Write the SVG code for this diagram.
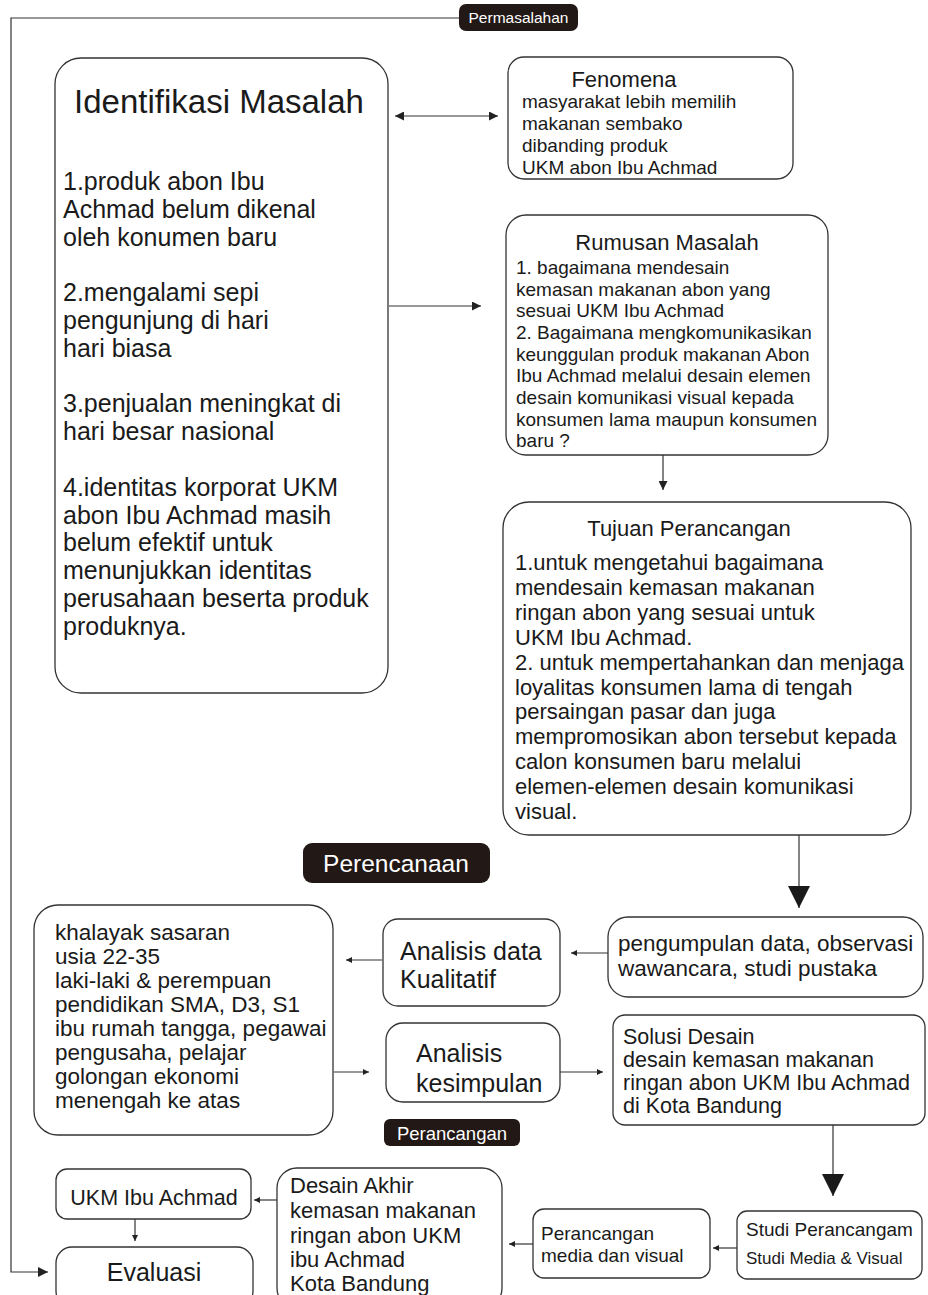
<svg xmlns="http://www.w3.org/2000/svg" width="928" height="1295" viewBox="0 0 928 1295">
<defs>
<style>
text{font-family:"Liberation Sans",Arial,sans-serif;fill:#1a1a1a}
.box{fill:#fff;stroke:#333;stroke-width:1.3}
.lbl{fill:#221815}
.lt{fill:#fff}
.con{fill:none;stroke:#333;stroke-width:1.2}
</style>
<marker id="sm" viewBox="0 0 10 10" refX="10" refY="5" markerUnits="userSpaceOnUse" markerWidth="8" markerHeight="6" orient="auto"><path d="M0,0 L10,5 L0,10 z" fill="#222"/></marker>
<marker id="md" viewBox="0 0 10 10" refX="10" refY="5" markerUnits="userSpaceOnUse" markerWidth="12" markerHeight="9" orient="auto-start-reverse"><path d="M0,0 L10,5 L0,10 z" fill="#222"/></marker>
<marker id="ev" viewBox="0 0 10 10" refX="10" refY="5" markerUnits="userSpaceOnUse" markerWidth="10" markerHeight="13" orient="auto"><path d="M0,0 L10,5 L0,10 z" fill="#222"/></marker>
<marker id="bg" viewBox="0 0 10 10" refX="10" refY="5" markerUnits="userSpaceOnUse" markerWidth="22" markerHeight="24" orient="auto"><path d="M0,0 L10,5 L0,10 z" fill="#1a1a1a"/></marker>
</defs>
<rect width="928" height="1295" fill="#fff"/>

<g id="connectors">
<polyline class="con" points="460,18 11,18 11,1272 48,1272" marker-end="url(#ev)"/>
<line class="con" x1="395" y1="116" x2="498" y2="116" marker-start="url(#md)" marker-end="url(#md)"/>
<line class="con" x1="389" y1="306" x2="481" y2="306" marker-end="url(#md)"/>
<line class="con" x1="663" y1="455" x2="663" y2="490" marker-end="url(#md)"/>
<line class="con" x1="799" y1="835" x2="799" y2="908" marker-end="url(#bg)"/>
<line class="con" x1="608" y1="953" x2="571" y2="953" marker-end="url(#sm)"/>
<line class="con" x1="382" y1="960" x2="346" y2="960" marker-end="url(#sm)"/>
<line class="con" x1="334" y1="1072" x2="369" y2="1072" marker-end="url(#sm)"/>
<line class="con" x1="560" y1="1072" x2="603" y2="1072" marker-end="url(#sm)"/>
<line class="con" x1="833" y1="1125" x2="833" y2="1196" marker-end="url(#bg)"/>
<line class="con" x1="737" y1="1248" x2="713" y2="1248" marker-end="url(#sm)"/>
<line class="con" x1="533" y1="1244" x2="509" y2="1244" marker-end="url(#sm)"/>
<line class="con" x1="277" y1="1200" x2="254" y2="1200" marker-end="url(#sm)"/>
<line class="con" x1="135" y1="1219" x2="135" y2="1241" marker-end="url(#sm)"/>
</g>

<g id="permasalahan">
<rect class="lbl" x="459" y="4" width="119" height="27" rx="7"/>
<text class="lt" x="518.5" y="23" font-size="15.5" text-anchor="middle">Permasalahan</text>
</g>

<g id="identifikasi">
<rect class="box" x="55" y="58" width="333" height="635" rx="26"/>
<text x="219" y="113" font-size="33" text-anchor="middle">Identifikasi Masalah</text>
<g font-size="25">
<text x="63" y="190">1.produk abon Ibu</text>
<text x="63" y="218">Achmad belum dikenal</text>
<text x="63" y="246">oleh konumen baru</text>
<text x="63" y="301">2.mengalami sepi</text>
<text x="63" y="329">pengunjung di hari</text>
<text x="63" y="357">hari biasa</text>
<text x="63" y="412">3.penjualan meningkat di</text>
<text x="63" y="440">hari besar nasional</text>
<text x="63" y="496">4.identitas korporat UKM</text>
<text x="63" y="524">abon Ibu Achmad masih</text>
<text x="63" y="551">belum efektif untuk</text>
<text x="63" y="579">menunjukkan identitas</text>
<text x="63" y="607">perusahaan beserta produk</text>
<text x="63" y="635">produknya.</text>
</g>
</g>

<g id="fenomena">
<rect class="box" x="508" y="57" width="285" height="122" rx="16"/>
<text x="624" y="87" font-size="22" text-anchor="middle">Fenomena</text>
<g font-size="19">
<text x="522" y="108">masyarakat lebih memilih</text>
<text x="522" y="130">makanan sembako</text>
<text x="522" y="152">dibanding produk</text>
<text x="522" y="174">UKM abon Ibu Achmad</text>
</g>
</g>

<g id="rumusan">
<rect class="box" x="506" y="215" width="322" height="240" rx="20"/>
<text x="667" y="250" font-size="22" text-anchor="middle">Rumusan Masalah</text>
<g font-size="19">
<text x="516" y="274">1. bagaimana mendesain</text>
<text x="516" y="295.7">kemasan makanan abon yang</text>
<text x="516" y="317.3">sesuai UKM Ibu Achmad</text>
<text x="516" y="339">2. Bagaimana mengkomunikasikan</text>
<text x="516" y="360.7">keunggulan produk makanan Abon</text>
<text x="516" y="382.3">Ibu Achmad melalui desain elemen</text>
<text x="516" y="404">desain komunikasi visual kepada</text>
<text x="516" y="425.7">konsumen lama maupun konsumen</text>
<text x="516" y="447.3">baru ?</text>
</g>
</g>

<g id="tujuan">
<rect class="box" x="503" y="502" width="408" height="333" rx="26"/>
<text x="689" y="536" font-size="22" text-anchor="middle">Tujuan Perancangan</text>
<g font-size="22">
<text x="515" y="570">1.untuk mengetahui bagaimana</text>
<text x="515" y="594.9">mendesain kemasan makanan</text>
<text x="515" y="619.8">ringan abon yang sesuai untuk</text>
<text x="515" y="644.7">UKM Ibu Achmad.</text>
<text x="515" y="669.6">2. untuk mempertahankan dan menjaga</text>
<text x="515" y="694.5">loyalitas konsumen lama di tengah</text>
<text x="515" y="719.4">persaingan pasar dan juga</text>
<text x="515" y="744.3">mempromosikan abon tersebut kepada</text>
<text x="515" y="769.2">calon konsumen baru melalui</text>
<text x="515" y="794.1">elemen-elemen desain komunikasi</text>
<text x="515" y="819">visual.</text>
</g>
</g>

<g id="perencanaan">
<rect class="lbl" x="303" y="843" width="187" height="40" rx="9"/>
<text class="lt" x="396" y="872" font-size="24.5" text-anchor="middle">Perencanaan</text>
</g>

<g id="pengumpulan">
<rect class="box" x="608" y="917" width="315" height="80" rx="20"/>
<g font-size="22.5">
<text x="618" y="951">pengumpulan data, observasi</text>
<text x="618" y="976">wawancara, studi pustaka</text>
</g>
</g>

<g id="analisis-data">
<rect class="box" x="383" y="919" width="177" height="87" rx="15"/>
<g font-size="25">
<text x="400" y="960">Analisis data</text>
<text x="400" y="988">Kualitatif</text>
</g>
</g>

<g id="khalayak">
<rect class="box" x="34" y="905" width="299" height="230" rx="24"/>
<g font-size="22.5">
<text x="55" y="940">khalayak sasaran</text>
<text x="55" y="964">usia 22-35</text>
<text x="55" y="988">laki-laki &amp; perempuan</text>
<text x="55" y="1012">pendidikan SMA, D3, S1</text>
<text x="55" y="1036">ibu rumah tangga, pegawai</text>
<text x="55" y="1060">pengusaha, pelajar</text>
<text x="55" y="1084">golongan ekonomi</text>
<text x="55" y="1108">menengah ke atas</text>
</g>
</g>

<g id="analisis-kesimpulan">
<rect class="box" x="386" y="1023" width="174" height="79" rx="17"/>
<g font-size="25">
<text x="416" y="1062">Analisis</text>
<text x="416" y="1092">kesimpulan</text>
</g>
</g>

<g id="perancangan">
<rect class="lbl" x="384" y="1119" width="136" height="27" rx="6"/>
<text class="lt" x="452" y="1140" font-size="18.5" text-anchor="middle">Perancangan</text>
</g>

<g id="solusi">
<rect class="box" x="613" y="1015" width="312" height="110" rx="12"/>
<g font-size="21.5">
<text x="623" y="1044">Solusi Desain</text>
<text x="623" y="1067">desain kemasan makanan</text>
<text x="623" y="1090">ringan abon UKM Ibu Achmad</text>
<text x="623" y="1113">di Kota Bandung</text>
</g>
</g>

<g id="studi">
<rect class="box" x="737" y="1211" width="185" height="68" rx="10"/>
<text x="746" y="1236" font-size="19">Studi Perancangam</text>
<text x="746" y="1264" font-size="17">Studi Media &amp; Visual</text>
</g>

<g id="perancangan-media">
<rect class="box" x="533" y="1209" width="177" height="69" rx="11"/>
<g font-size="19">
<text x="541" y="1240">Perancangan</text>
<text x="541" y="1262">media dan visual</text>
</g>
</g>

<g id="desain-akhir">
<rect class="box" x="277" y="1168" width="225" height="140" rx="20"/>
<g font-size="22">
<text x="290" y="1193">Desain Akhir</text>
<text x="290" y="1218">kemasan makanan</text>
<text x="290" y="1243">ringan abon UKM</text>
<text x="290" y="1267">ibu Achmad</text>
<text x="290" y="1291">Kota Bandung</text>
</g>
</g>

<g id="ukm">
<rect class="box" x="56" y="1169" width="195" height="50" rx="11"/>
<text x="154" y="1205" font-size="21.5" text-anchor="middle">UKM Ibu Achmad</text>
</g>

<g id="evaluasi">
<rect class="box" x="56" y="1247" width="197" height="60" rx="16"/>
<text x="154" y="1281" font-size="25" text-anchor="middle">Evaluasi</text>
</g>
</svg>
